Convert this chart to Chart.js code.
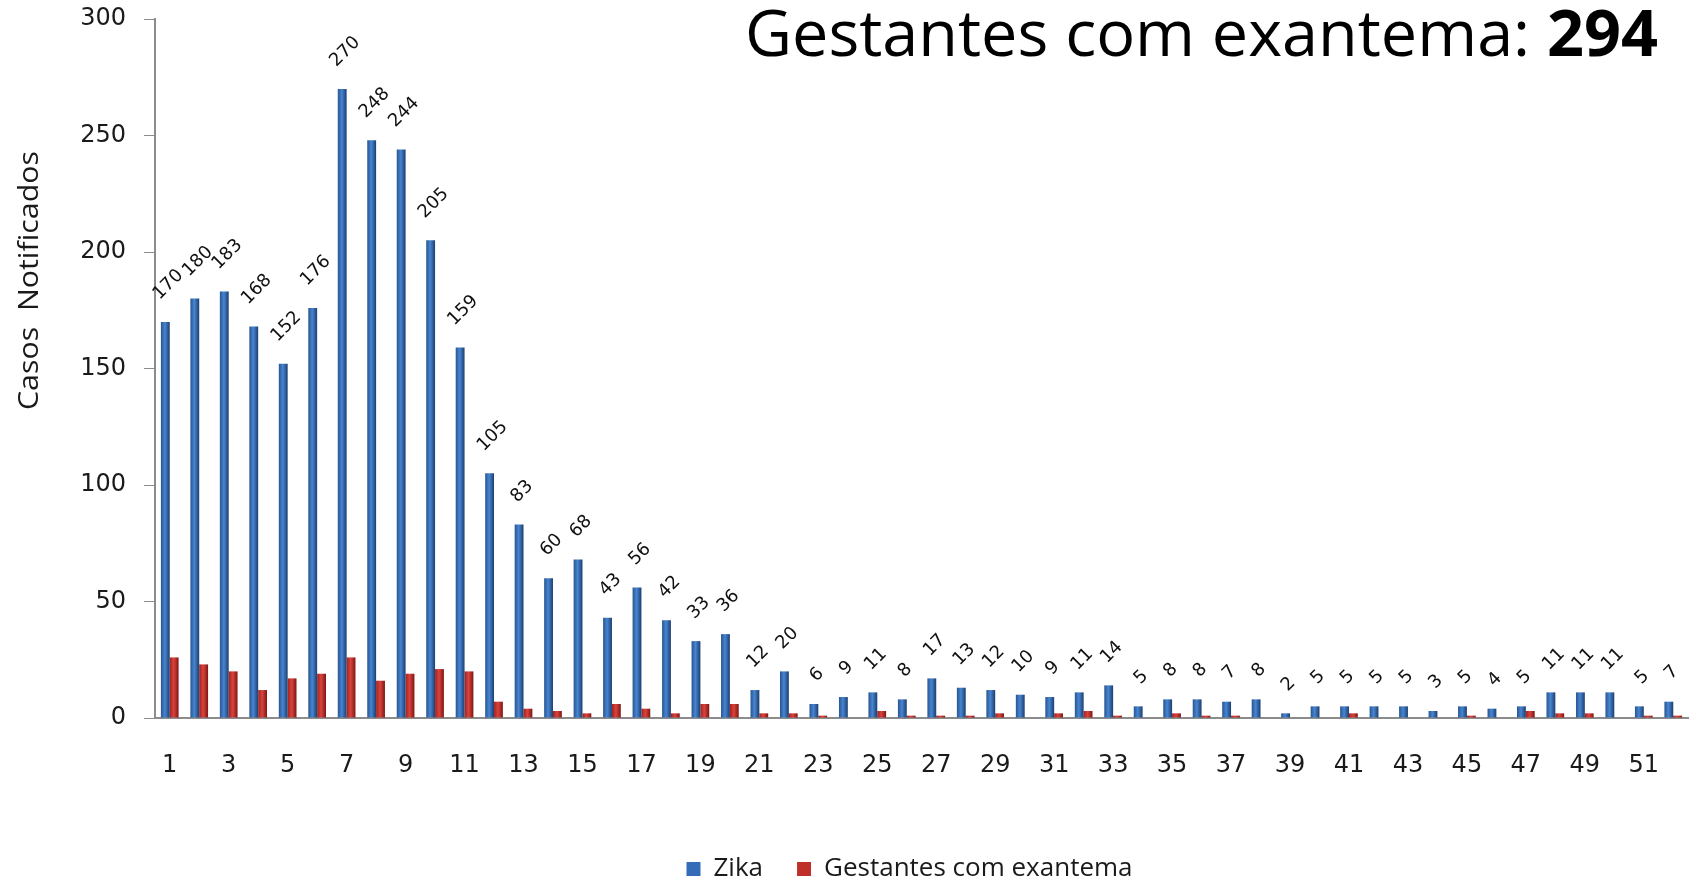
<!DOCTYPE html>
<html>
<head>
<meta charset="utf-8">
<script src="https://cdn.jsdelivr.net/npm/chart.js@4.4.1/dist/chart.umd.min.js"></script>
<style>
  html, body { margin: 0; padding: 0; background: #fff; }
  #wrap { width: 1694px; height: 882px; }
</style>
</head>
<body>
<div id="wrap"><canvas id="chart" width="1694" height="882"></canvas></div>
<script>
// semanas epidemiologicas
var semanas = [1, 2, 3, 4, 5, 6, 7, 8, 9, 10, 11, 12, 13, 14, 15, 16, 17, 18, 19, 20, 21, 22, 23, 24, 25, 26,
               27, 28, 29, 30, 31, 32, 33, 34, 35, 36, 37, 38, 39, 40, 41, 42, 43, 44, 45, 46, 47, 48, 49, 50, 51, 52];
var zika = [170, 180, 183, 168, 152, 176, 270, 248, 244, 205, 159, 105, 83, 60, 68, 43, 56, 42, 33, 36, 12, 20, 6, 9, 11, 8,
            17, 13, 12, 10, 9, 11, 14, 5, 8, 8, 7, 8, 2, 5, 5, 5, 5, 3, 5, 4, 5, 11, 11, 11, 5, 7];
var gestantes = [26, 23, 20, 12, 17, 19, 26, 16, 19, 21, 20, 7, 4, 3, 2, 6, 4, 2, 6, 6, 2, 2, 1, 0, 3, 1,
                 1, 1, 2, 0, 2, 3, 1, 0, 2, 1, 1, 0, 0, 0, 2, 0, 0, 0, 1, 0, 3, 2, 2, 0, 1, 1];
var yTicks = [0, 50, 100, 150, 200, 250, 300];

var totalGestantes = gestantes.reduce(function(a, b) { return a + b; }, 0);

var calibri = '"Open Sans", "Noto Sans", sans-serif';
var verdana = '"DejaVu Sans", Verdana, sans-serif';
var cinza = '#8c8c8c';

// bevel-like horizontal shading on each bar
function barGradient(ctx, bar, stops) {
    var half = bar.width / 2;
    var g = ctx.createLinearGradient(bar.x - half, 0, bar.x + half, 0);
    g.addColorStop(0, stops[0]);
    g.addColorStop(0.45, stops[1]);
    g.addColorStop(1, stops[2]);
    return g;
}

var shading = {
    id: 'shading',
    beforeDatasetsDraw: function(chart) {
        chart.data.datasets.forEach(function(ds, i) {
            chart.getDatasetMeta(i).data.forEach(function(bar) {
                bar.options = Object.assign({}, bar.options, { backgroundColor: barGradient(chart.ctx, bar, ds.stops) });
            });
        });
    }
};

// rotated value labels over the Zika bars
var rotuloZika = {
    id: 'rotuloZika',
    afterDatasetsDraw: function(chart) {
        var ctx = chart.ctx;
        ctx.save();
        ctx.font = '18px ' + verdana;
        ctx.fillStyle = '#111';
        ctx.textAlign = 'center';
        ctx.textBaseline = 'middle';
        chart.getDatasetMeta(0).data.forEach(function(bar, i) {
            var txt = String(zika[i]);
            var w = ctx.measureText(txt).width;
            var rise = (w + 14) / Math.SQRT2 / 2 + 20;
            ctx.save();
            ctx.translate(bar.x + 3, bar.y - rise);
            ctx.rotate(-Math.PI / 4);
            ctx.fillText(txt, 0, 0);
            ctx.restore();
        });
        ctx.restore();
    }
};

function fitText(ctx, parts, width) {
    var total = 0;
    parts.forEach(function(p) { ctx.font = p.font; p.w = ctx.measureText(p.text).width; total += p.w; });
    return width / total;
}

// big heading and the y axis caption
var cabecalho = {
    id: 'cabecalho',
    afterDraw: function(chart) {
        var ctx = chart.ctx;
        ctx.save();
        ctx.fillStyle = '#000';
        ctx.textBaseline = 'alphabetic';
        ctx.textAlign = 'left';
        var parts = [
            { text: 'Gestantes com exantema: ', font: '64px ' + calibri },
            { text: String(totalGestantes), font: 'bold 64px ' + calibri }
        ];
        var k = fitText(ctx, parts, 913);
        ctx.translate(745, 56);
        ctx.scale(k, 1);
        var x = 0;
        parts.forEach(function(p) { ctx.font = p.font; ctx.fillText(p.text, x, 0); x += p.w; });
        ctx.restore();

        ctx.save();
        ctx.fillStyle = '#1a1a1a';
        ctx.textAlign = 'left';
        ctx.textBaseline = 'middle';
        var cap = [{ text: 'Casos  Notificados', font: '28px ' + calibri }];
        var k2 = fitText(ctx, cap, 259);
        ctx.translate(30, 410);
        ctx.rotate(-Math.PI / 2);
        ctx.scale(k2, 1);
        ctx.font = cap[0].font;
        ctx.fillText(cap[0].text, 0, 0);
        ctx.restore();
    }
};

// keep the legend row low while leaving wide gaps between items
var legendaBaixa = {
    id: 'legendaBaixa',
    afterInit: function(chart) {
        var fit = chart.legend.fit;
        chart.legend.fit = function() {
            fit.call(this);
            this.height = 60;
        };
    },
    afterLayout: function(chart) {
        chart.legend.left -= 12;
        chart.legend.right -= 12;
    }
};

document.addEventListener('DOMContentLoaded', function() {
    var ctx = document.getElementById('chart').getContext('2d');

    var data = {
        labels: semanas,
        datasets: [{
            label: 'Zika',
            data: zika,
            backgroundColor: '#356cb8',
            stops: ['#28558f', '#4785d2', '#1c3e6e'],
            categoryPercentage: 0.6,
            barPercentage: 1
        }, {
            label: 'Gestantes com exantema',
            data: gestantes,
            backgroundColor: '#c0302b',
            stops: ['#a3211e', '#d9443c', '#7e1513'],
            categoryPercentage: 0.6,
            barPercentage: 1
        }]
    };

    var myChart = new Chart(ctx, {
        type: 'bar',
        data: data,
        options: {
            responsive: false,
            animation: false,
            layout: { padding: { top: 19, right: 6, bottom: 0, left: 0 } },
            plugins: {
                legend: {
                    position: 'bottom',
                    fullSize: false,
                    align: 'center',
                    labels: {
                        font: { family: calibri, size: 26 },
                        color: '#1a1a1a',
                        boxWidth: 14,
                        boxHeight: 14,
                        padding: 34
                    }
                },
                tooltip: { enabled: false }
            },
            scales: {
                x: {
                    grid: { display: false, drawTicks: false },
                    border: { color: cinza, width: 2 },
                    ticks: {
                        autoSkip: false,
                        maxRotation: 0,
                        padding: 33,
                        color: '#1a1a1a',
                        font: { family: verdana, size: 24 },
                        callback: function(v, i) { return i % 2 === 0 ? this.getLabelForValue(v) : ''; }
                    },
                    afterFit: function(s) { s.height = 104; s.paddingLeft = 0; s.paddingRight = 0; }
                },
                y: {
                    min: 0,
                    max: 300,
                    afterBuildTicks: function(s) { s.ticks = yTicks.map(function(v) { return { value: v }; }); },
                    grid: { drawOnChartArea: false, tickLength: 11, color: cinza },
                    border: { color: cinza, width: 2 },
                    ticks: {
                        padding: 18,
                        color: '#1a1a1a',
                        font: { family: verdana, size: 24 }
                    },
                    afterFit: function(s) { s.width = 155; s.paddingTop = 0; s.paddingBottom = 0; }
                }
            }
        },
        plugins: [shading, rotuloZika, cabecalho, legendaBaixa]
    });
});
</script>
</body>
</html>
